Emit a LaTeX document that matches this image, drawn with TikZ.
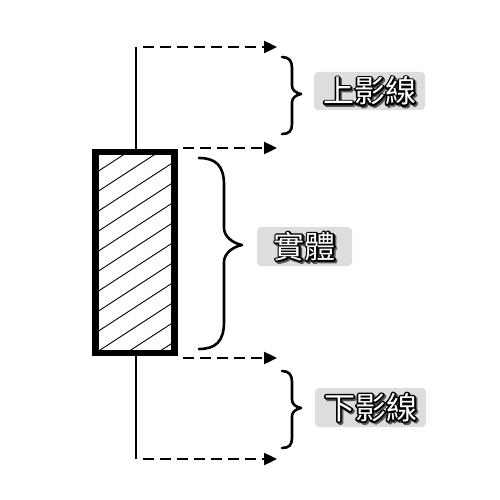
\documentclass[tikz,border=0pt]{standalone}
\usepackage{fontspec}
\newfontfamily\cjk{Noto Sans CJK TC}
\usetikzlibrary{arrows.meta,calc}
\definecolor{lblgray}{RGB}{221,221,221}
\tikzset{
  lbl/.style={fill=lblgray, rounded corners=4pt, inner sep=0pt, outer sep=0pt},
  txt/.style={font=\cjk\fontsize{31}{31}\selectfont, inner sep=0pt, text=white},
  dasharrow/.style={line width=2.4pt, dash pattern=on 11pt off 6pt, -{Triangle[length=13pt,width=12pt]}},
  wick/.style={line width=2.8pt},
  bodybox/.style={draw, line width=6.5pt, outer sep=0pt, inner sep=0pt},
  hatch/.style={line width=0.9pt},
  bracepath/.style={line width=2.6pt, line cap=round, line join=round}
}
% stroked (outline) text: #1 = rgb stroke/fill in PDF syntax
\newcommand\strk[2]{{\color{white}\special{pdf:literal direct #1 RG #1 rg 3.2 w 1 j 2 Tr}#2\special{pdf:literal direct 0 Tr}}}
\newcommand\labeltext[2]{%
  \node[txt] at ($(#1)+(1.6,1.6)$) {\strk{0.35 0.35 0.35}{#2}};
  \node[txt] at (#1) {\strk{0 0 0}{#2}};
  \node[txt] at (#1) {#2};
}
\begin{document}
\begin{tikzpicture}[x=1pt,y=-1pt]
\useasboundingbox (0,0) rectangle (500,500);
\fill[white] (0,0) rectangle (500,500);

% wick coordinates
\coordinate (wt) at (136,47);
\coordinate (wb) at (136,459);

% hatching inside body
\begin{scope}
  \clip (95.5,152) rectangle (174.5,353);
  \foreach \k in {-2,...,13}
    \draw[hatch] (90,{172+20*\k+0.65*7}) -- (180,{172+20*\k-0.65*83});
\end{scope}
% body
\node[bodybox, minimum width=79pt, minimum height=201pt] (body) at (135,252.5) {};

% wick
\draw[wick] (wt) -- (wt |- body.north);
\draw[wick] (wb |- body.south) -- (wb);

% dashed arrows
\coordinate (a1s) at (143,47);  \coordinate (a1e) at (277,47);
\coordinate (a2s) at (183,148); \coordinate (a2e) at (277,148);
\coordinate (a3s) at (183,358); \coordinate (a3e) at (277,358);
\coordinate (a4s) at (143,459); \coordinate (a4e) at (277,459);
\draw[dasharrow] (a1s) -- (a1e);
\draw[dasharrow] (a2s) -- (a2e);
\draw[dasharrow] (a3s) -- (a3e);
\draw[dasharrow] (a4s) -- (a4e);

% braces
\draw[bracepath] (282,57) .. controls (289,57) and (292,61) .. (292,68) -- (292,86)
  .. controls (292,90) and (296,93) .. (301,94)
  .. controls (296,95) and (292,98) .. (292,102) -- (292,124)
  .. controls (292,131) and (289,134) .. (282,134);
\draw[bracepath] (199,158) .. controls (216,158) and (224,166) .. (224,185) -- (224,228)
  .. controls (224,236) and (232,243) .. (242,245)
  .. controls (232,247) and (224,254) .. (224,262) -- (224,322)
  .. controls (224,341) and (216,349) .. (199,349);
\draw[bracepath] (282,371) .. controls (289,371) and (292,375) .. (292,382) -- (292,400)
  .. controls (292,404) and (296,407) .. (301,408)
  .. controls (296,409) and (292,412) .. (292,416) -- (292,438)
  .. controls (292,445) and (289,448) .. (282,448);

% labels
\node[lbl, minimum width=111pt, minimum height=38pt] (l1) at (369.5,91) {};
\node[lbl, minimum width=95pt, minimum height=39pt] (l2) at (304.5,246.5) {};
\node[lbl, minimum width=111pt, minimum height=39pt] (l3) at (370.5,407.5) {};
\labeltext{l1}{上影線}
\labeltext{l2}{實體}
\labeltext{l3}{下影線}
\end{tikzpicture}
\end{document}
